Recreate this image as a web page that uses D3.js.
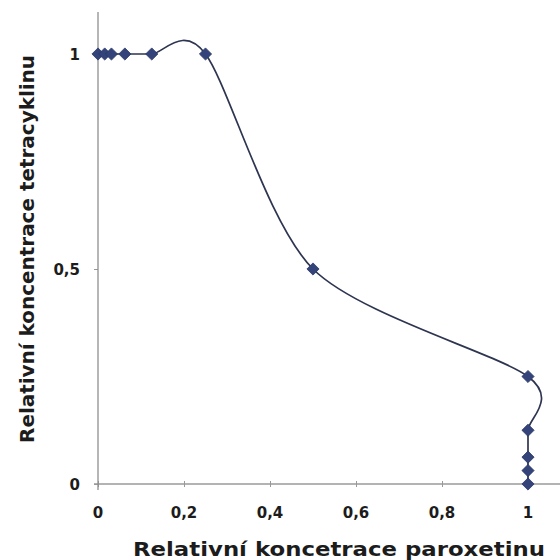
<!DOCTYPE html>
<html>
<head>
<meta charset="utf-8">
<script src="https://cdn.jsdelivr.net/npm/d3@7"></script>
<style>
  html, body { margin: 0; padding: 0; background: #fff; }
  svg { display: block; }
  text { font-family: "DejaVu Sans", "Liberation Sans", Arial, sans-serif; font-weight: bold; fill: #1c1c1c; }
</style>
</head>
<body>
<svg id="chart" width="560" height="560"></svg>
<script>
// Relative concentrations of paroxetine (x) and tetracycline (y)
const paroxetin    = [0, 0.015625, 0.03125, 0.0625, 0.125, 0.25, 0.5, 1, 1, 1, 1, 1];
const tetracyklin  = [1, 1, 1, 1, 1, 1, 0.5, 0.25, 0.125, 0.0625, 0.03125, 0];
const xTicks = [0, 0.2, 0.4, 0.6, 0.8, 1];
const yTicks = [0, 0.5, 1];
const xTickLabels = ["0", "0,2", "0,4", "0,6", "0,8", "1"];
const yTickLabels = ["0", "0,5", "1"];

const svg = d3.select("#chart");
const x = d3.scaleLinear().domain([0, 1]).range([98, 528]);
const y = d3.scaleLinear().domain([0, 1]).range([484, 54]);

const points = paroxetin.map((v, i) => ({ x: v, y: tetracyklin[i] }));

// axes
const xAxis = d3.axisBottom(x).tickValues(xTicks).tickSize(3).tickFormat("");
const gx = svg.append("g").attr("transform", `translate(0,${y(0)})`).call(xAxis);
gx.select(".domain").remove();
gx.selectAll(".tick line").attr("y1", -3).attr("y2", 3).attr("stroke", "#999");
svg.append("line").attr("x1", x(0) - 4).attr("x2", 560).attr("y1", y(0)).attr("y2", y(0))
  .attr("stroke", "#9a9a9a").attr("stroke-width", 1.3);

const yAxis = d3.axisLeft(y).tickValues(yTicks).tickSize(4).tickFormat("");
const gy = svg.append("g").attr("transform", `translate(${x(0)},0)`).call(yAxis);
gy.select(".domain").remove();
gy.selectAll(".tick line").attr("stroke", "#999");
svg.append("line").attr("x1", x(0)).attr("x2", x(0)).attr("y1", 12).attr("y2", 490)
  .attr("stroke", "#8f8f8f").attr("stroke-width", 1.3);

// tick labels
svg.append("g").selectAll("text").data(xTicks).join("text")
  .attr("x", d => x(d)).attr("y", 518).attr("text-anchor", "middle")
  .attr("font-size", 15).text((d, i) => xTickLabels[i]);
svg.append("g").selectAll("text").data(yTicks).join("text")
  .attr("x", 80).attr("y", d => y(d) + 5.5).attr("text-anchor", "end")
  .attr("font-size", 15).text((d, i) => yTickLabels[i]);

// axis titles
svg.append("text").attr("x", 339).attr("y", 556).attr("text-anchor", "middle")
  .attr("font-size", 20).attr("textLength", 412).attr("lengthAdjust", "spacingAndGlyphs")
  .text("Relativní koncetrace paroxetinu");
svg.append("text").attr("transform", "translate(34,249) rotate(-90)")
  .attr("text-anchor", "middle").attr("font-size", 19)
  .attr("textLength", 388).attr("lengthAdjust", "spacingAndGlyphs")
  .text("Relativní koncentrace tetracyklinu");

// smoothed curve
const line = d3.line().x(d => x(d.x)).y(d => y(d.y)).curve(d3.curveCardinal.tension(0.15));
svg.append("path").datum(points).attr("d", line)
  .attr("fill", "none").attr("stroke", "#2d3550").attr("stroke-width", 1.7);

// diamond markers
const diamond = d3.symbol().type(d3.symbolDiamond2).size(95);
svg.append("g").selectAll("path").data(points).join("path")
  .attr("transform", d => `translate(${x(d.x)},${y(d.y)})`)
  .attr("d", diamond).attr("fill", "#34437a").attr("stroke", "#2a3766").attr("stroke-width", 0.8);
</script>
</body>
</html>
